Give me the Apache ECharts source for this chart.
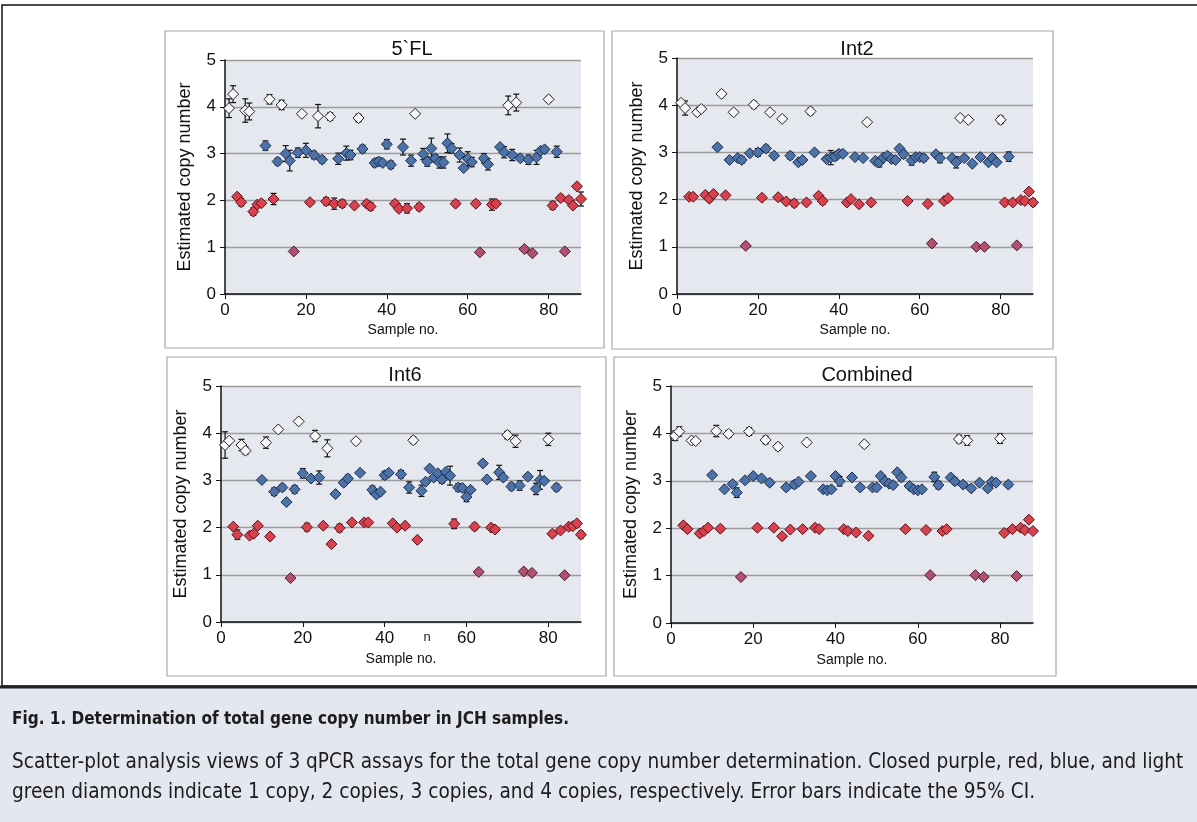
<!DOCTYPE html>
<html>
<head>
<meta charset="utf-8">
<script src="https://cdn.jsdelivr.net/npm/echarts@6/dist/echarts.min.js"></script>
<style>
  html, body { margin: 0; padding: 0; background: #fff; }
  #chart { width: 1197px; height: 822px; }
</style>
</head>
<body>
<div id="chart"></div>
<script>
// copy class of each sample (1..88): 1, 2, 3 or 4 copies
const copyClass = [
  4, 4, 2, 2, 4, 4, 2, 2, 2, 3,
  4, 2, 3, 4, 3, 3, 1, 3, 4, 3,
  2, 3, 4, 3, 2, 4, 2, 3, 2, 3,
  3, 2, 4, 3, 2, 2, 3, 3, 3, 3,
  3, 2, 2, 3, 2, 3, 4, 2, 3, 3,
  3, 3, 3, 3, 3, 3, 2, 3, 3, 3,
  3, 2, 1, 3, 3, 2, 2, 3, 3, 4,
  3, 4, 3, 1, 3, 1, 3, 3, 3, 4,
  2, 3, 2, 1, 2, 2, 2, 2
];

// estimated copy number per sample, and 95% CI half-width
const fl5Values = [
  3.97, 4.27, 2.08, 1.96, 3.92, 3.90, 1.76, 1.91, 1.94, 3.17,
  4.16, 2.03, 2.83, 4.04, 3.00, 2.85, 0.91, 3.02, 3.85, 3.07,
  1.96, 2.97, 3.80, 2.87, 1.98, 3.79, 1.93, 2.89, 1.93, 3.01,
  2.97, 1.89, 3.76, 3.10, 1.93, 1.87, 2.80, 2.83, 2.80, 3.20,
  2.76, 1.93, 1.82, 3.14, 1.83, 2.85, 3.85, 1.86, 2.99, 2.83,
  3.11, 2.90, 2.81, 2.81, 3.22, 3.11, 1.93, 2.97, 2.69, 2.89,
  2.82, 1.93, 0.89, 2.90, 2.77, 1.91, 1.93, 3.14, 3.03, 4.03,
  2.97, 4.09, 2.90, 0.96, 2.87, 0.87, 2.92, 3.06, 3.09, 4.16,
  1.89, 3.04, 2.05, 0.91, 2.01, 1.89, 2.30, 2.03
];
const fl5Errors = [
  .20, .18, .05, .08, .25, .18, .08, .04, .04, .10,
  .10, .12, .07, .10, .17, .22, .03, .10, .03, .15,
  .03, .08, .25, .07, .08, .08, .12, .12, .08, .15,
  .10, .03, .08, .08, .06, .08, .08, .08, .04, .10,
  .08, .06, .06, .17, .10, .12, .03, .07, .12, .10,
  .22, .08, .12, .12, .20, .10, .06, .15, .03, .15,
  .10, .03, .03, .10, .12, .12, .04, .05, .12, .20,
  .12, .18, .05, .04, .10, .03, .15, .05, .06, .06,
  .08, .12, .06, .03, .06, .03, .05, .15
];

const int2Values = [
  4.05, 3.94, 2.06, 2.06, 3.85, 3.92, 2.10, 2.02, 2.12, 3.11,
  4.24, 2.09, 2.84, 3.85, 2.88, 2.84, 1.02, 2.98, 4.01, 3.00,
  2.04, 3.08, 3.85, 2.93, 2.05, 3.71, 1.96, 2.93, 1.92, 2.79,
  2.84, 1.94, 3.87, 3.00, 2.08, 1.97, 2.86, 2.89, 2.91, 2.97,
  2.97, 1.94, 2.01, 2.90, 1.90, 2.88, 3.64, 1.94, 2.82, 2.79,
  2.89, 2.93, 2.86, 2.84, 3.08, 2.96, 1.97, 2.83, 2.90, 2.90,
  2.88, 1.91, 1.07, 2.96, 2.88, 1.97, 2.03, 2.88, 2.79, 3.73,
  2.88, 3.69, 2.76, 1.00, 2.90, 1.00, 2.79, 2.88, 2.79, 3.69,
  1.94, 2.91, 1.94, 1.03, 1.99, 1.97, 2.17, 1.94
];
const int2Errors = [
  .05, .15, .03, .03, .05, .03, .05, .06, .03, .03,
  .03, .03, .05, .03, .03, .07, .03, .03, .07, .08,
  .03, .07, .03, .03, .03, .05, .03, .07, .07, .03,
  .03, .03, .07, .04, .03, .07, .04, .15, .08, .07,
  .03, .03, .03, .03, .03, .03, .05, .03, .04, .10,
  .03, .03, .03, .03, .03, .08, .03, .10, .03, .07,
  .07, .05, .03, .03, .10, .03, .03, .03, .12, .05,
  .03, .05, .05, .03, .03, .03, .03, .07, .03, .08,
  .03, .10, .03, .03, .03, .03, .03, .07
];

const int6Values = [
  3.75, 3.84, 2.02, 1.85, 3.75, 3.63, 1.83, 1.87, 2.04, 3.01,
  3.80, 1.81, 2.76, 4.08, 2.85, 2.54, 0.93, 2.81, 4.25, 3.15,
  2.01, 3.04, 3.94, 3.06, 2.04, 3.68, 1.65, 2.71, 1.99, 2.95,
  3.04, 2.11, 3.83, 3.16, 2.11, 2.11, 2.80, 2.70, 2.76, 3.11,
  3.16, 2.09, 2.00, 3.13, 2.04, 2.85, 3.85, 1.74, 2.78, 2.97,
  3.25, 3.06, 3.15, 3.02, 3.18, 3.10, 2.08, 2.85, 2.84, 2.65,
  2.80, 2.02, 1.06, 3.36, 3.02, 2.00, 1.96, 3.17, 3.06, 3.96,
  2.87, 3.83, 2.89, 1.07, 3.08, 1.04, 2.82, 3.01, 2.99, 3.87,
  1.87, 2.85, 1.94, 0.99, 2.02, 2.03, 2.09, 1.85
];
const int6Errors = [
  .28, .03, .03, .10, .12, .08, .03, .03, .03, .03,
  .12, .03, .08, .03, .06, .03, .03, .08, .03, .10,
  .08, .03, .12, .14, .04, .18, .03, .05, .08, .06,
  .07, .03, .03, .03, .03, .03, .08, .06, .03, .08,
  .03, .03, .03, .08, .04, .12, .07, .03, .12, .03,
  .03, .03, .03, .08, .03, .20, .10, .08, .03, .10,
  .03, .07, .03, .03, .03, .03, .03, .15, .03, .08,
  .07, .13, .10, .03, .03, .03, .12, .20, .03, .13,
  .05, .07, .03, .03, .03, .03, .05, .07
];

const combValues = [
  3.95, 4.04, 2.06, 1.98, 3.85, 3.84, 1.89, 1.94, 2.01, 3.12,
  4.05, 1.99, 2.82, 3.99, 2.93, 2.75, 0.97, 3.01, 4.04, 3.10,
  2.01, 3.05, 3.86, 2.96, 2.01, 3.72, 1.83, 2.86, 1.97, 2.92,
  2.98, 1.98, 3.81, 3.10, 2.01, 1.98, 2.82, 2.80, 2.82, 3.10,
  2.99, 1.98, 1.94, 3.07, 1.91, 2.86, 3.77, 1.84, 2.86, 2.86,
  3.10, 2.99, 2.94, 2.91, 3.18, 3.07, 1.98, 2.89, 2.82, 2.80,
  2.82, 1.96, 1.01, 3.08, 2.91, 1.94, 1.98, 3.07, 2.99, 3.88,
  2.92, 3.85, 2.84, 1.01, 2.96, 0.97, 2.84, 2.98, 2.96, 3.89,
  1.90, 2.92, 1.98, 0.99, 2.01, 1.96, 2.18, 1.94
];
const combErrors = [
  .10, .10, .03, .05, .03, .03, .05, .03, .03, .03,
  .12, .05, .03, .07, .05, .10, .03, .03, .08, .03,
  .03, .03, .08, .06, .03, .07, .05, .05, .03, .07,
  .03, .03, .03, .03, .03, .03, .03, .03, .03, .03,
  .10, .03, .05, .06, .04, .03, .05, .03, .03, .03,
  .03, .03, .03, .06, .03, .07, .03, .03, .03, .05,
  .03, .03, .03, .10, .08, .03, .03, .03, .07, .08,
  .03, .10, .03, .03, .03, .03, .05, .03, .03, .10,
  .03, .05, .03, .03, .03, .03, .03, .03
];

const panelTitles = ['5`FL', 'Int2', 'Int6', 'Combined'];
const xTicks = [0, 20, 40, 60, 80];

const panels = [
  { title: panelTitles[0], values: fl5Values, errors: fl5Errors, grid: { left: 225, top: 60, width: 356, height: 234 }, titleX: 407, titleY: 34, frame: [165, 31, 439, 317] },
  { title: panelTitles[1], values: int2Values, errors: int2Errors, grid: { left: 677, top: 58, width: 356, height: 236 }, titleX: 852, titleY: 34, frame: [612, 31, 441, 318] },
  { title: panelTitles[2], values: int6Values, errors: int6Errors, grid: { left: 221, top: 386, width: 360, height: 236 }, titleX: 400, titleY: 360, frame: [167, 357, 439, 319] },
  { title: panelTitles[3], values: combValues, errors: combErrors, grid: { left: 671, top: 386, width: 362, height: 237 }, titleX: 862, titleY: 360, frame: [614, 357, 442, 319] }
];

// marker style per copy number
const markerStyle = {
  1: { color: '#b2506f', borderColor: '#4a1a2c' },
  2: { color: '#d8414e', borderColor: '#5a1219' },
  3: { color: '#4d72a8', borderColor: '#1b2d4c' },
  4: { color: '#f7f7f7', borderColor: '#222' }
};

const axisFont = 'Arial, "Liberation Sans", sans-serif';
const captionFont = '"DejaVu Sans Condensed", "Liberation Sans Narrow", sans-serif';

function renderErr(params, api) {
  const x = api.value(0);
  const top = api.coord([x, api.value(2)]);
  const bot = api.coord([x, api.value(1)]);
  const w = 3;
  const st = { stroke: '#111', lineWidth: 1.2 };
  return {
    type: 'group',
    children: [
      { type: 'line', shape: { x1: top[0], y1: top[1], x2: bot[0], y2: bot[1] }, style: st },
      { type: 'line', shape: { x1: top[0] - w, y1: top[1], x2: top[0] + w, y2: top[1] }, style: st },
      { type: 'line', shape: { x1: bot[0] - w, y1: bot[1], x2: bot[0] + w, y2: bot[1] }, style: st }
    ]
  };
}

const grids = [], xAxes = [], yAxes = [], series = [], titles = [], graphics = [];

// outer figure frame, separator and caption panel
graphics.push(
  { type: 'rect', shape: { x: 0, y: 688, width: 1197, height: 134 }, style: { fill: '#e4e7ef' }, z: -10 },
  { type: 'rect', shape: { x: 2, y: 5, width: 1200, height: 681 }, style: { fill: null, stroke: '#111', lineWidth: 1.5 }, z: -5 },
  { type: 'line', shape: { x1: 0, y1: 687, x2: 1197, y2: 687 }, style: { stroke: '#222', lineWidth: 3 } },
  { type: 'text', x: 12, y: 720, style: { text: 'Fig. 1. Determination of total gene copy number in JCH samples.', font: 'bold 17px ' + captionFont, fill: '#1c1c1c', verticalAlign: 'middle' } },
  { type: 'text', x: 12, y: 763, style: { text: 'Scatter-plot analysis views of 3 qPCR assays for the total gene copy number determination. Closed purple, red, blue, and light', font: '20.6px ' + captionFont, fill: '#1c1c1c', verticalAlign: 'middle' } },
  { type: 'text', x: 12, y: 793, style: { text: 'green diamonds indicate 1 copy, 2 copies, 3 copies, and 4 copies, respectively. Error bars indicate the 95% CI.', font: '20.6px ' + captionFont, fill: '#1c1c1c', verticalAlign: 'middle' } },
  { type: 'text', x: 427, y: 637, style: { text: 'n', font: '13px ' + axisFont, fill: '#222', align: 'center', verticalAlign: 'middle' } }
);

panels.forEach((p, i) => {
  const f = p.frame;
  graphics.push({ type: 'rect', shape: { x: f[0], y: f[1], width: f[2], height: f[3] }, style: { fill: '#fff', stroke: '#a8a8a8', lineWidth: 1.2 }, z: -8 });

  grids.push(Object.assign({ show: true, backgroundColor: '#e6e8ef', borderWidth: 0 }, p.grid));
  titles.push({ text: p.title, left: p.titleX, top: p.titleY, textAlign: 'center',
    textStyle: { fontFamily: axisFont, fontSize: 20, fontWeight: 'normal', color: '#111' } });

  xAxes.push({
    gridIndex: i, type: 'value', min: 0, max: 88,
    name: 'Sample no.', nameLocation: 'middle', nameGap: i < 2 ? 29 : 30,
    nameTextStyle: { fontFamily: axisFont, fontSize: 14, color: '#111' },
    axisLine: { lineStyle: { color: '#111', width: 1.5 } },
    axisTick: { show: true, length: 5, customValues: xTicks, lineStyle: { color: '#111' } },
    axisLabel: { customValues: xTicks, fontFamily: axisFont, fontSize: 17, color: '#111', margin: 8 },
    splitLine: { show: false }
  });
  yAxes.push({
    gridIndex: i, type: 'value', min: 0, max: 5, interval: 1,
    name: 'Estimated copy number', nameLocation: 'middle', nameRotate: 90, nameGap: 31,
    nameTextStyle: { fontFamily: axisFont, fontSize: 18, color: '#111' },
    axisLine: { show: true, lineStyle: { color: '#111', width: 1.5 } },
    axisTick: { show: true, length: 5, lineStyle: { color: '#111' } },
    axisLabel: { fontFamily: axisFont, fontSize: 17, color: '#111', margin: 9 },
    splitLine: { show: true, lineStyle: { color: '#9c9c9c', width: 1.3 } }
  });

  const errData = p.values.map((v, k) => [k + 1, v - p.errors[k], v + p.errors[k]]);
  series.push({
    type: 'custom', xAxisIndex: i, yAxisIndex: i, renderItem: renderErr,
    encode: { x: 0, y: [1, 2] }, data: errData, z: 2, silent: true
  });

  [1, 2, 3, 4].forEach(c => {
    const data = [];
    p.values.forEach((v, k) => { if (copyClass[k] === c) data.push([k + 1, v]); });
    series.push({
      type: 'scatter', xAxisIndex: i, yAxisIndex: i, name: c + ' copy',
      symbol: 'diamond', symbolSize: [11, 11], data: data, z: 3,
      itemStyle: { color: markerStyle[c].color, borderColor: markerStyle[c].borderColor, borderWidth: 1, opacity: 1 }
    });
  });
});

const chart = echarts.init(document.getElementById('chart'), null, { renderer: 'canvas' });
chart.setOption({
  animation: false,
  backgroundColor: '#fff',
  title: titles,
  grid: grids,
  xAxis: xAxes,
  yAxis: yAxes,
  series: series,
  graphic: graphics
});
window.addEventListener('resize', () => chart.resize());
</script>
</body>
</html>
